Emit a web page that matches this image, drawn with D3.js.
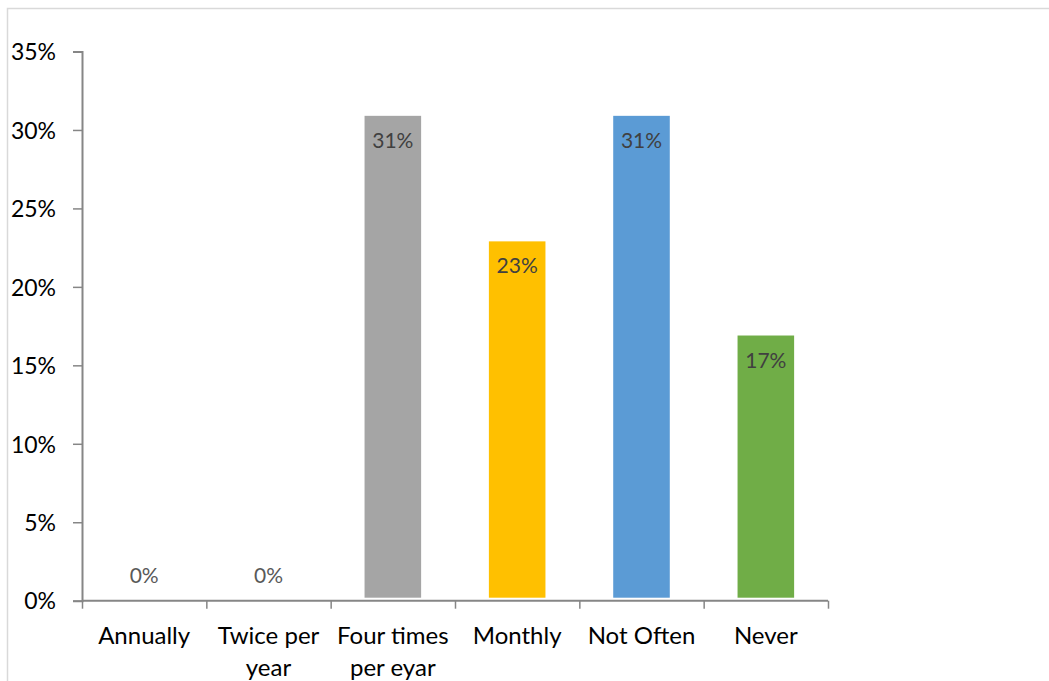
<!DOCTYPE html>
<html>
<head>
<meta charset="utf-8">
<script src="https://cdn.jsdelivr.net/npm/d3@7"></script>
<style>
  html, body { margin: 0; padding: 0; background: #fff; }
  svg { display: block; }
  text { font-family: Lato, "Open Sans", sans-serif; }
</style>
</head>
<body>
<div id="chart"></div>
<script>
// Survey: how often the service is used
const categories = ["Annually", "Twice per year", "Four times per eyar", "Monthly", "Not Often", "Never"];
const categoryLines = [["Annually"], ["Twice per", "year"], ["Four times", "per eyar"], ["Monthly"], ["Not Often"], ["Never"]];
const values = [0, 0, 30.9, 22.9, 30.9, 16.9];
const barColors = ["#a5a5a5", "#a5a5a5", "#a5a5a5", "#ffc000", "#5b9bd5", "#70ad47"];
const yTicks = [0, 5, 10, 15, 20, 25, 30, 35];

const W = 1049, H = 681;
const margin = { left: 82, right: 221, top: 51.5, bottom: 80 };

const svg = d3.select("#chart").append("svg")
  .attr("width", W).attr("height", H);

// chart frame
svg.append("rect")
  .attr("x", 7.5).attr("y", 8.5)
  .attr("width", W + 20).attr("height", H + 20)
  .attr("fill", "none").attr("stroke", "#d9d9d9").attr("stroke-width", 1.5);

const x = d3.scaleBand()
  .domain(categories)
  .range([margin.left, W - margin.right])
  .paddingInner(0.545).paddingOuter(0.2725);

const y = d3.scaleLinear()
  .domain([0, 35])
  .range([H - margin.bottom - 0.3, margin.top]);

// bars
svg.append("g").selectAll("rect")
  .data(values)
  .join("rect")
  .attr("x", (d, i) => x(categories[i]))
  .attr("y", d => y(d))
  .attr("width", x.bandwidth())
  .attr("height", d => Math.max(0, y(0) - y(d) - 3))
  .attr("fill", (d, i) => barColors[i]);

// y axis
const yAxis = d3.axisLeft(y)
  .tickValues(yTicks)
  .tickSize(9)
  .tickPadding(17)
  .tickFormat(d => d + "%");
const gy = svg.append("g")
  .attr("transform", `translate(${margin.left},0)`)
  .call(yAxis);
gy.select(".domain").attr("stroke", "#868686").attr("stroke-width", 2);
gy.selectAll(".tick line").attr("stroke", "#868686").attr("stroke-width", 1.5);
gy.selectAll(".tick text")
  .attr("fill", "#000")
  .attr("font-size", 23)
  .attr("dy", "0.36em");

// x axis: category boundaries as ticks
const xAxisScale = d3.scaleLinear().domain([0, categories.length]).range(x.range());
const gx = svg.append("g")
  .attr("transform", `translate(0,${y(0)})`)
  .call(d3.axisBottom(xAxisScale).ticks(categories.length).tickSize(8).tickFormat(""));
gx.select(".domain").attr("stroke", "#868686").attr("stroke-width", 2).attr("d", `M${x.range()[0]},0H${x.range()[1]}`);
gx.selectAll(".tick line").attr("stroke", "#868686").attr("stroke-width", 1.5);

// category labels
const catG = svg.append("g");
categories.forEach((c, i) => {
  const t = catG.append("text")
    .attr("x", x(c) + x.bandwidth() / 2)
    .attr("y", y(0) + 43)
    .attr("text-anchor", "middle")
    .attr("font-size", 24)
    .attr("fill", "#000");
  categoryLines[i].forEach((line, k) => {
    t.append("tspan")
      .attr("x", x(c) + x.bandwidth() / 2)
      .attr("dy", k === 0 ? 0 : 32)
      .text(line);
  });
});

// value labels
svg.append("g").selectAll("text")
  .data(values)
  .join("text")
  .attr("x", (d, i) => x(categories[i]) + x.bandwidth() / 2)
  .attr("y", d => d === 0 ? y(0) - 18 : y(d) + 32)
  .attr("text-anchor", "middle")
  .attr("font-size", 21)
  .attr("fill", d => d === 0 ? "#595959" : "#404040")
  .text(d => Math.round(d) + "%");
</script>
</body>
</html>
